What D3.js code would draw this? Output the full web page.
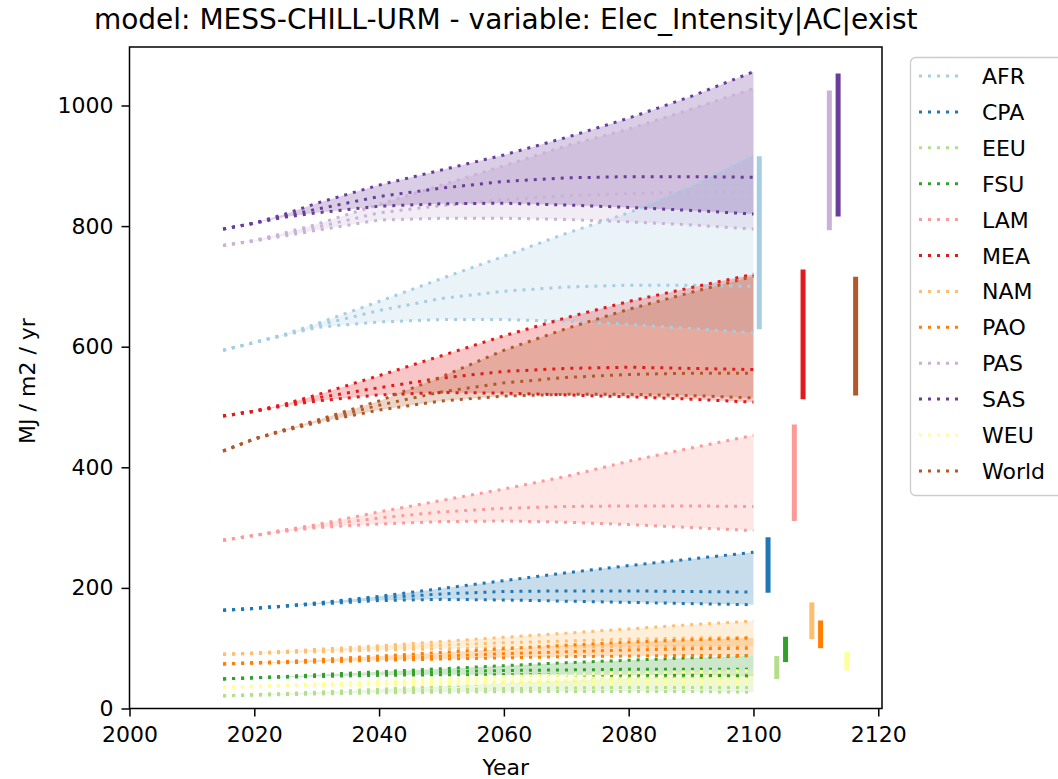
<!DOCTYPE html>
<html><head><meta charset="utf-8">
<script src="https://cdn.jsdelivr.net/npm/d3@7"></script>
<style>body{margin:0;background:#fff}svg{display:block}text{font-family:"DejaVu Sans",sans-serif}</style>
</head><body><svg id="c" width="1058" height="779"></svg>
<script>
const years = [2015, 2020, 2025, 2030, 2040, 2050, 2060, 2070, 2080, 2090, 2100];
const regions = ["AFR","CPA","EEU","FSU","LAM","MEA","NAM","PAO","PAS","SAS","WEU","World"];
const colors = ["#a6cee3","#1f78b4","#b2df8a","#33a02c","#fb9a99","#e31a1c","#fdbf6f","#ff7f00","#cab2d6","#6a3d9a","#ffff99","#b15928"];
// three scenarios per region: high, mid, low
const AFR = [[594,607,621,638,675,713,750,788,822,866,918],[594,607,620,635,660,680,692,699,702,702,700],[594,607,619,632,641,645,645,642,637,630,623]];
const CPA = [[163,166,170,175,186,199,212,225,237,248,259],[163,166,170,174,183,190,194,195,195,194,193],[163,166,170,173,179,181,180,178,176,174,172]];
const EEU = [[21,23,25,27,32,37,42,46,50,53,56],[21,23,24,26,29,31,33,34,35,35,35],[21,22,23,24,26,27,28,28,28,28,27]];
const FSU = [[49,51,53,56,61,66,71,76,80,84,88],[49,51,53,55,58,61,63,64,65,65,65],[49,51,52,53,55,56,56,56,55,55,54]];
const LAM = [[279,287,296,305,326,345,364,385,410,432,453],[279,287,296,303,316,326,332,335,336,336,335],[279,287,294,300,306,310,311,309,305,300,295]];
const MEA = [[485,493,505,520,552,585,618,648,675,698,720],[485,493,504,515,532,548,559,564,566,564,562],[485,493,502,510,520,524,523,520,517,513,508]];
const NAM = [[90,92,95,98,104,111,118,125,132,139,145],[90,92,94,96,100,105,109,112,115,117,118],[90,91,93,94,97,99,101,102,103,103,103]];
const PAO = [[74,76,78,81,87,93,99,105,110,114,117],[74,76,77,79,83,87,91,94,97,99,100],[74,75,76,77,80,82,84,86,87,88,88]];
const PAS = [[768,776,789,803,836,868,900,933,961,994,1028],[768,776,787,798,822,834,844,850,854,856,856],[768,775,784,793,810,813,813,811,807,802,795]];
const SAS = [[795,805,820,838,868,893,918,947,979,1015,1056],[795,805,817,828,849,863,874,880,882,882,881],[795,805,815,822,833,837,838,835,831,826,820]];
const WEU = [[35,37,39,41,45,49,53,56,59,61,63],[35,36,38,39,42,44,46,47,48,48,48],[35,36,37,38,39,40,41,41,41,40,40]];
const World = [[427,447,463,478,510,550,594,630,662,690,717],[427,447,462,476,503,525,540,549,554,556,556],[427,447,461,474,495,510,518,521,521,519,515]];
// final-range bars (low, high)
const barLow  = [629,192,49,77,311,513,115,100,793,816,63,519];
const barHigh = [916,284,87,119,471,728,176,146,1025,1053,94,716];
const xTicks = [2000,2020,2040,2060,2080,2100,2120];
const yTicks = [0,200,400,600,800,1000];

const series = {AFR,CPA,EEU,FSU,LAM,MEA,NAM,PAO,PAS,SAS,WEU,World};
const svg = d3.select("#c");
svg.append("rect").attr("width",1058).attr("height",779).attr("fill","#fff");
const L=129.5, R=882, T=47, B=708.5;
const x = d3.scaleLinear().domain([2000,2120.6]).range([L,R]);
const y = d3.scaleLinear().domain([0,1097]).range([B,T]);
const color = d3.scaleOrdinal().domain(regions).range(colors);
const FS = 22;

const plot = svg.append("g");
const area = d3.area().x((d,i)=>x(years[i])).y0(d=>y(d[0])).y1(d=>y(d[1]));
const line = d3.line().x((d,i)=>x(years[i])).y(d=>y(d));

regions.forEach(r=>{
  const s = series[r];
  const band = years.map((yr,i)=>[d3.min(s,v=>v[i]), d3.max(s,v=>v[i])]);
  plot.append("path").attr("d",area(band)).attr("fill",color(r)).attr("fill-opacity",0.25);
});
regions.forEach(r=>{
  series[r].forEach(v=>{
    plot.append("path").attr("d",line(v)).attr("fill","none").attr("stroke",color(r))
      .attr("stroke-width",3).attr("stroke-dasharray","3,6");
  });
});
regions.forEach((r,i)=>{
  const bx = x(2100.93 + i*1.404);
  plot.append("line").attr("x1",bx).attr("x2",bx).attr("y1",y(barLow[i])).attr("y2",y(barHigh[i]))
    .attr("stroke",color(r)).attr("stroke-width",5);
});

// axes
const xa = svg.append("g").attr("transform",`translate(0,${B})`).call(d3.axisBottom(x).tickValues(xTicks).tickFormat(d3.format("d")).tickSizeOuter(0).tickSize(8).tickPadding(9.5));
const ya = svg.append("g").attr("transform",`translate(${L},0)`).call(d3.axisLeft(y).tickValues(yTicks).tickFormat(d3.format("d")).tickSizeOuter(0).tickSize(8).tickPadding(8));
[xa,ya].forEach(a=>{a.select(".domain").remove();a.selectAll("text").attr("font-size",FS).attr("fill","#000").style("font-family","DejaVu Sans");a.selectAll("line").attr("stroke","#000").attr("stroke-width",1.5);});
svg.append("rect").attr("x",L).attr("y",T).attr("width",R-L).attr("height",B-T).attr("fill","none").attr("stroke","#000").attr("stroke-width",1.5);

svg.append("text").attr("x",(L+R)/2).attr("y",29).attr("text-anchor","middle").attr("font-size",28).text("model: MESS-CHILL-URM - variable: Elec_Intensity|AC|exist");
svg.append("text").attr("x",(L+R)/2).attr("y",775).attr("text-anchor","middle").attr("font-size",FS).text("Year");
svg.append("text").attr("transform",`translate(35,381) rotate(-90)`).attr("text-anchor","middle").attr("font-size",FS).text("MJ / m2 / yr");

// legend
const lg = svg.append("g");
lg.append("rect").attr("x",910.5).attr("y",57.5).attr("width",170).attr("height",438).attr("rx",5).attr("fill","#fff").attr("fill-opacity",0.8).attr("stroke","#cccccc").attr("stroke-width",1.3);
regions.forEach((r,i)=>{
  const ly = 76 + i*35.9;
  lg.append("line").attr("x1",919).attr("x2",962).attr("y1",ly).attr("y2",ly).attr("stroke",color(r)).attr("stroke-width",3).attr("stroke-dasharray","3,6");
  lg.append("text").attr("x",982).attr("y",ly+8).attr("font-size",FS).text(r);
});
</script></body></html>
